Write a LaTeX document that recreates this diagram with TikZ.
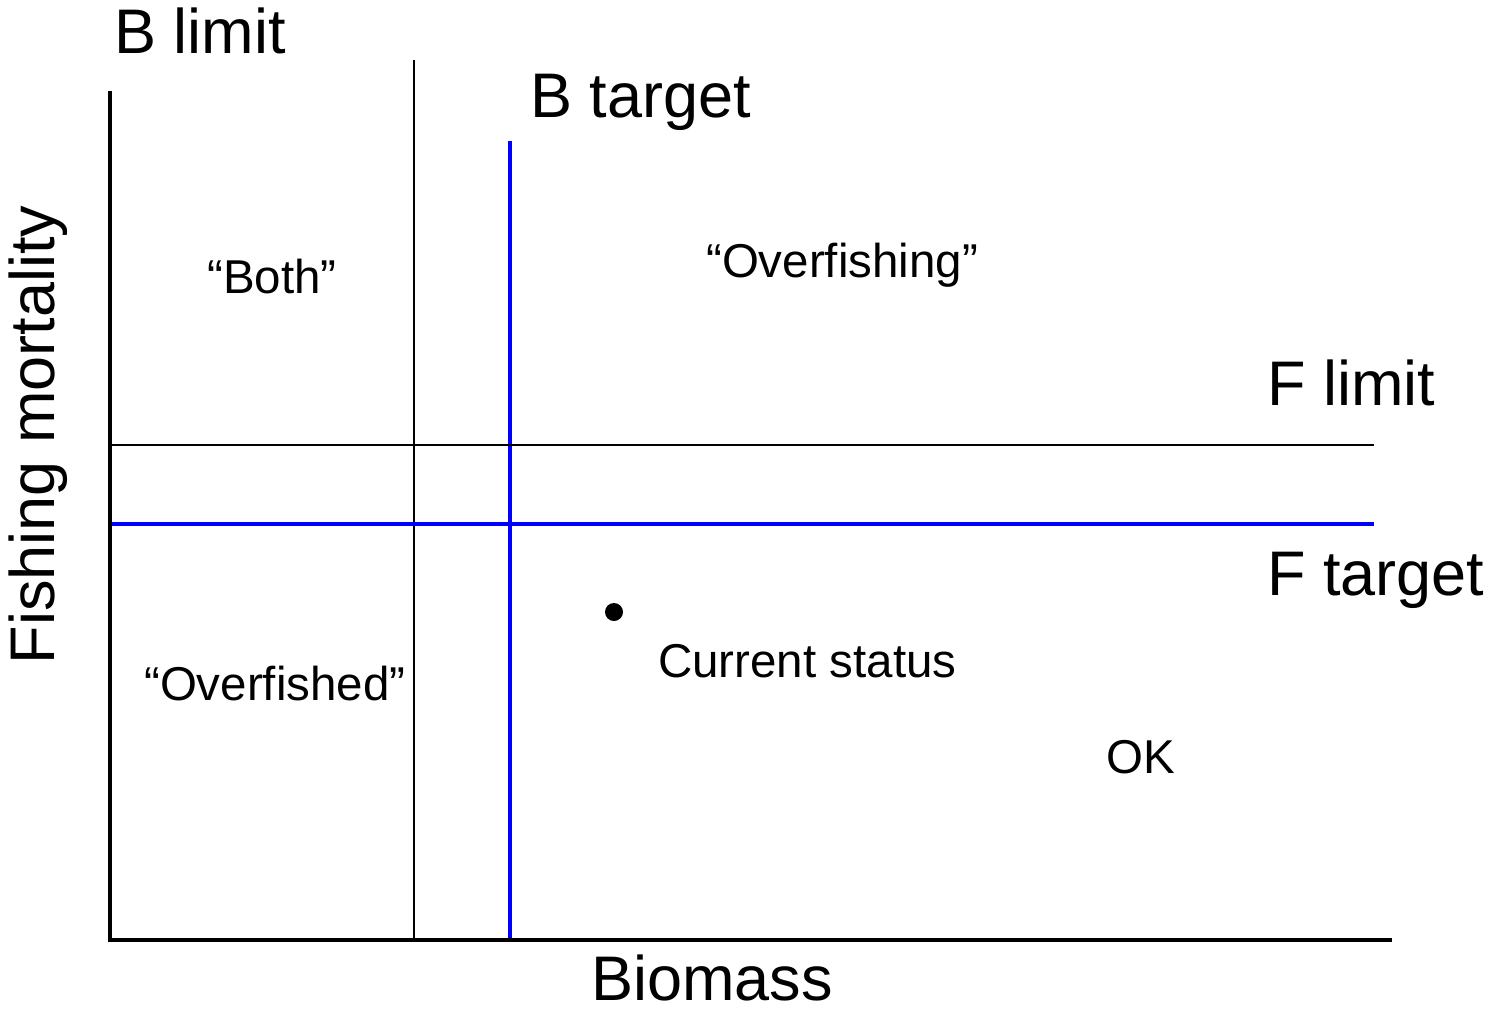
\documentclass[tikz,border=0pt]{standalone}
\usepackage{fontspec}
\setmainfont{Liberation Sans}
\begin{document}
\begin{tikzpicture}[x=1pt,y=-1pt,
  big/.style={inner sep=0pt,font=\fontsize{63}{70}\selectfont},
  small/.style={inner sep=0pt,font=\fontsize{47.5}{54}\selectfont},
  axis/.style={line width=4.2pt},
  limline/.style={line width=2pt,black},
  tgtline/.style={line width=3.4pt,blue}]
\useasboundingbox (0,0) rectangle (1494,1012);
% coordinates
\coordinate (yaxtop) at (110,93);
\coordinate (origin) at (110,940);
\coordinate (xaxend) at (1390,940);
\coordinate (blimtop) at (414,60);
\coordinate (blimbot) at (414,940);
\coordinate (btgttop) at (510,141);
\coordinate (btgtbot) at (510,940);
\coordinate (flimL) at (110,445);
\coordinate (flimR) at (1374,445);
\coordinate (ftgtL) at (110,524);
\coordinate (ftgtR) at (1374,524);
% reference lines
\draw[limline] (blimtop) -- (blimbot);
\draw[tgtline] (btgttop) -- (btgtbot);
\draw[limline] (flimL) -- (flimR);
\draw[tgtline] (ftgtL) -- (ftgtR);
% axes
\draw[axis,line cap=rect] (yaxtop) -- (origin) -- (xaxend);
% labels
\node[big,anchor=base west] (blim) at (114,53) {B limit};
\node[big,anchor=base west] (btgt) at (530,117) {B target};
\node[big,anchor=base west] (flim) at (1267,405) {F limit};
\node[big,anchor=base west] (ftgt) at (1267,595) {F target};
\node[big,anchor=base,rotate=90] (ylab) at (54,435) {Fishing mortality};
\node[big,anchor=base] (xlab) at (712,1000) {Biomass};
\node[small,anchor=base west] (both) at (207,293) {“Both”};
\node[small,anchor=base west] (overfishing) at (706,277) {“Overfishing”};
\node[small,anchor=base west] (overfished) at (144,700) {“Overfished”};
\node[small,anchor=base west] (current) at (658,677) {Current status};
\node[small,anchor=base west] (ok) at (1106,773) {OK};
\fill (614,612) circle (9pt) node (dot) {};
\end{tikzpicture}
\end{document}
